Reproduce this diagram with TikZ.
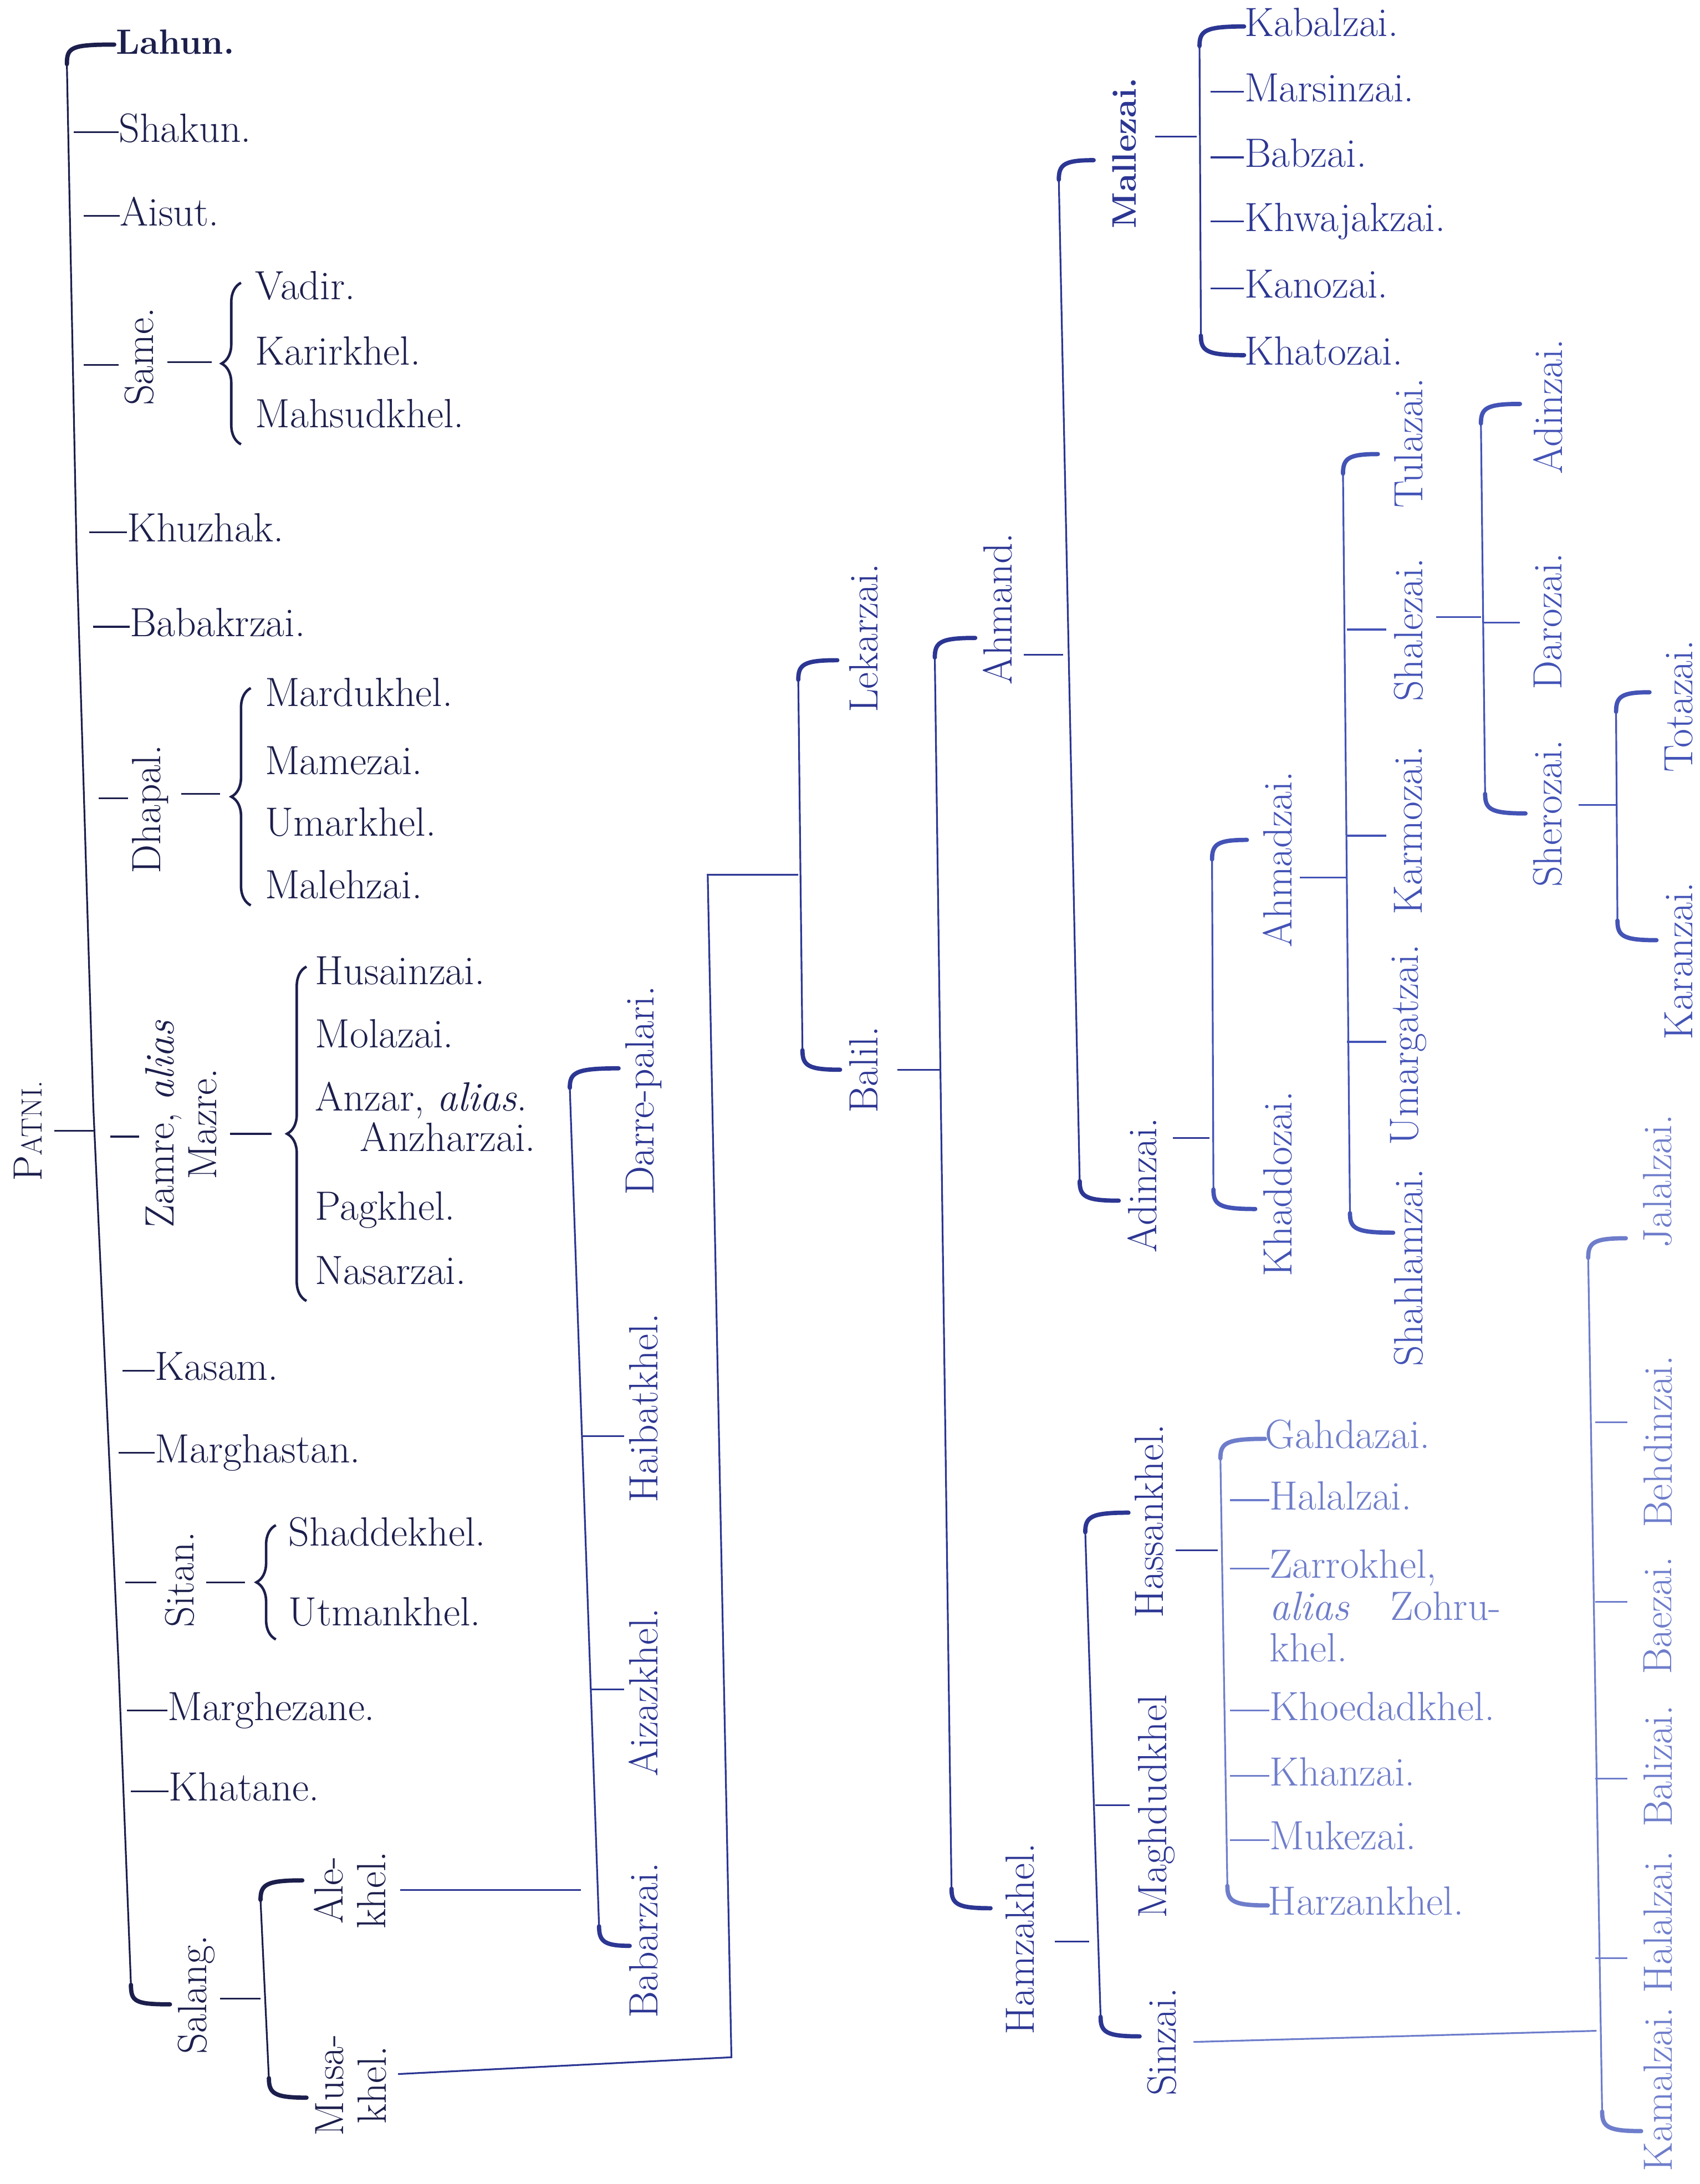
\documentclass[tikz,border=0pt]{standalone}
\usepackage{fontspec}
\usepackage{tikz}
\usetikzlibrary{decorations.pathreplacing, calc}
\definecolor{inkNavy}{HTML}{1C1F4C}
\definecolor{inkBlue}{HTML}{2C3693}
\definecolor{inkPale}{HTML}{4353B6}
\definecolor{inkFaint}{HTML}{6E7DCB}
\newcommand{\tx}{\fontsize{21}{22}\selectfont\addfontfeatures{FakeBold=0.6}}
% a name on a dash: name, dash start x, text x, y, text
\newcommand{\twig}[5]{%
  \node[leaf] (#1) at (#3,#4) {#5};
  \draw[stem] (#2,#4) -- (#1.west);}
% a bracket with curled ends: name, x top, y top, x bottom, y bottom, end x top, end x bottom
\newcommand{\bracket}[7]{%
  \coordinate (#1-t) at (#6,#3);
  \coordinate (#1-b) at (#7,#5);
  \draw[stem] (#2,#3+14) -- (#4,#5-14);
  \draw[curl] (#2,#3+14) .. controls (#2,#3+3) and (#2+4,#3) .. (#1-t);
  \draw[curl] (#4,#5-14) .. controls (#4,#5-3) and (#4+4,#5) .. (#1-b);}
% a curly brace: name of its tip, x, y top, y bottom
\newcommand{\clanbrace}[4]{%
  \draw[stem, line width=1.3pt, decorate, decoration={brace, amplitude=10pt}]
    (#2,#4) -- (#2,#3);
  \coordinate (#1) at ({#2-14},{(#3+#4)/2});}
\tikzset{
  stem/.style={line width=0.9pt},
  curl/.style={line width=2.2pt, line cap=round},
  leaf/.style={anchor=west, inner sep=0pt, font=\tx, text height=14pt, text depth=4pt},
  rot/.style={rotate=90, inner sep=0pt, font=\tx, align=center},
}
\begin{document}
\begin{tikzpicture}[x=0.02514cm, y=-0.02514cm]
  \useasboundingbox[fill=white] (0,0) rectangle (1220,1568);
  % ---- Patni and its first branches ----
  \begin{scope}[color=inkNavy]
    \node[rot] (patni) at (20,812) {P{\fontsize{15}{16}\selectfont ATNI.}};
    \draw[stem] (39,812) -- (68,812);
    \draw[stem] (48,46) -- (55,398) -- (67,795) -- (85,1193) -- (94,1425);
    \draw[curl] (48,46) .. controls (48,34) and (51,32) .. (82,32);
    \draw[curl] (94,1425) .. controls (94,1437) and (97,1439) .. (122,1439);
    \node[leaf, font=\bfseries\fontsize{18}{20}\selectfont] (lahun) at (83,32) {Lahun.};
    \twig{shakun}{53}{85}{95}{Shakun.}
    \twig{aisut}{60}{86}{155}{Aisut.}
    % Same
    \draw[stem] (60,262) -- (85,262);
    \node[rot] (same) at (100,256) {Same.};
    \draw[stem] (120,260) -- (152,260);
    \clanbrace{sametip}{173}{203}{319}
    \node[leaf] (vadir) at (183,208) {Vadir.};
    \node[leaf] (karirkhel) at (183,255) {Karirkhel.};
    \node[leaf] (mahsudkhel) at (183,300) {Mahsudkhel.};
    \twig{khuzhak}{64}{91}{382}{Khuzhak.}
    \twig{babakrzai}{67}{93}{450}{Babakrzai.}
    % Dhapal
    \draw[stem] (71,573) -- (92,573);
    \node[rot] (dhapal) at (108,581) {Dhapal.};
    \draw[stem] (130,570) -- (158,570);
    \clanbrace{dhapaltip}{180}{494}{650}
    \node[leaf] (mardukhel) at (190,500) {Mardukhel.};
    \node[leaf] (mamezai) at (190,549) {Mamezai.};
    \node[leaf] (umarkhel) at (190,593) {Umarkhel.};
    \node[leaf] (malehzai) at (190,638) {Malehzai.};
    % Zamre
    \draw[stem] (79,816) -- (100,816);
    \node[rot] (zamre) at (130,807) {Zamre, \textit{alias}\\Mazre.};
    \draw[stem] (165,814) -- (195,814);
    \clanbrace{zamretip}{220}{694}{934}
    \node[leaf] (husainzai) at (226,700) {Husainzai.};
    \node[leaf] (molazai) at (226,745) {Molazai.};
    \node[leaf, text depth=2pt] (anzar) at (226,789) {Anzar, \textit{alias}.};
    \node[leaf, text height=12pt] (anzharzai) at (258,821) {Anzharzai.};
    \node[leaf] (pagkhel) at (226,869) {Pagkhel.};
    \node[leaf] (nasarzai) at (226,915) {Nasarzai.};
    \twig{kasam}{88}{111}{984}{Kasam.}
    \twig{marghastan}{85}{111}{1043}{Marghastan.}
    % Sitan
    \draw[stem] (90,1136) -- (112,1136);
    \node[rot] (sitan) at (129,1134) {Sitan.};
    \draw[stem] (148,1136) -- (176,1136);
    \clanbrace{sitantip}{198}{1095}{1177}
    \node[leaf] (shaddekhel) at (207,1103) {Shaddekhel.};
    \node[leaf] (utmankhel) at (207,1160) {Utmankhel.};
    \twig{marghezane}{91}{120}{1228}{Marghezane.}
    \twig{khatane}{94}{121}{1286}{Khatane.}
    % Salang
    \node[rot] (salang) at (141,1432) {Salang.};
    \draw[stem] (158,1435) -- (187,1435);
    \bracket{salangbr}{187}{1350}{193}{1506}{217}{220}
    \node[rot] (alekhel) at (251,1357) {Ale-\\khel.};
    \node[rot] (musakhel) at (252,1497) {Musa-\\khel.};
  \end{scope}
  % ---- Alekhel and Musakhel lines ----
  \begin{scope}[color=inkBlue]
    \coordinate (aleend) at (417,1357);
    \coordinate (musaknee) at (525,1477);
    \coordinate (lekknee) at (508,628);
    \coordinate (lekjoin) at (573,628);
    \draw[stem] ([xshift=0.25cm]alekhel.south) -- (aleend);
    \draw[stem] ([xshift=0.2cm, yshift=0.2cm]musakhel.south) -- (musaknee) -- (lekknee) -- (lekjoin);
    \bracket{babarbr}{409}{767}{430}{1397}{444}{452}
    \draw[stem] (418,1031) -- (448,1031);
    \draw[stem] (424,1213) -- (448,1213);
    \node[rot] (darre) at (462,783) {Darre-palari.};
    \node[rot] (haibatkhel) at (462,1011) {Haibatkhel.};
    \node[rot] (aizazkhel) at (462,1215) {Aizazkhel.};
    \node[rot] (babarzai) at (462,1393) {Babarzai.};
    % Lekarzai and Balil
    \bracket{lekbr}{573}{474}{576}{768}{601}{603}
    \node[rot] (lekarzai) at (620,458) {Lekarzai.};
    \node[rot] (balil) at (620,768) {Balil.};
    \draw[stem] (644,768) -- (675,768);
    \bracket{ahmbr}{671}{458}{683}{1370}{700}{711}
    \node[rot] (ahmand) at (716,437) {Ahmand.};
    \draw[stem] (735,470) -- (763,470);
    \node[rot] (hamzakhel) at (732,1392) {Hamzakhel.};
    \draw[stem] (757,1394) -- (782,1394);
    % Mallezai and Adinzai
    \bracket{malbr}{760}{115}{775}{862}{785}{803}
    \node[rot, font=\bfseries\fontsize{17.5}{20}\selectfont] (mallezai) at (807,110) {Mallezai.};
    \draw[stem] (829,98) -- (859,98);
    \node[rot] (adinzaiA) at (820,851) {Adinzai.};
    \draw[stem] (842,817) -- (868,817);
    \bracket{kabbr}{861}{19}{862}{255}{893}{893}
    \node[leaf] (kabalzai) at (kabbr-t) {Kabalzai.};
    \twig{marsinzai}{869}{893}{66}{Marsinzai.}
    \twig{babzai}{869}{893}{113}{Babzai.}
    \twig{khwajakzai}{869}{893}{159}{Khwajakzai.}
    \twig{kanozai}{869}{893}{207}{Kanozai.}
    \node[leaf] (khatozai) at (kabbr-b) {Khatozai.};
    % Hassankhel, Maghdudkhel, Sinzai
    \bracket{hasbr}{779}{1086}{790}{1462}{810}{818}
    \node[rot] (hassankhel) at (825,1092) {Hassankhel.};
    \node[rot] (maghdudkhel) at (830,1297) {Maghdudkhel};
    \node[rot] (sinzai) at (834,1466) {Sinzai.};
    \draw[stem] (786,1296) -- (811,1296);
    \draw[stem] (844,1113) -- (874,1113);
  \end{scope}
  % ---- Adinzai branches ----
  \begin{scope}[color=inkPale]
    \bracket{ahmzbr}{870}{603}{871}{868}{895}{901}
    \node[rot] (ahmadzai) at (917,617) {Ahmadzai.};
    \node[rot] (khaddozai) at (917,850) {Khaddozai.};
    \draw[stem] (933,630) -- (966,630);
    \bracket{shahbr}{964}{326}{969}{885}{989}{1000}
    \node[rot] (tulazai) at (1011,318) {Tulazai.};
    \node[rot] (shalezai) at (1011,452) {Shalezai.};
    \node[rot] (karmozai) at (1011,596) {Karmozai.};
    \node[rot] (umargatzai) at (1011,750) {Umargatzai.};
    \node[rot] (shahlamzai) at (1011,910) {Shahlamzai.};
    \foreach \ty in {452,600,748}
      \draw[stem] (967,\ty) -- (995,\ty);
    \draw[stem] (1031,443) -- (1063,443);
    \bracket{sherbr}{1063}{290}{1066}{584}{1091}{1095}
    \node[rot] (adinzaiB) at (1111,292) {Adinzai.};
    \node[rot] (darozai) at (1111,446) {Darozai.};
    \node[rot] (sherozai) at (1111,584) {Sherozai.};
    \draw[stem] (1065,447) -- (1091,447);
    \draw[stem] (1133,578) -- (1160,578);
    \bracket{karbr}{1160}{497}{1161}{675}{1184}{1189}
    \node[rot] (totazai) at (1205,507) {Totazai.};
    \node[rot] (karanzai) at (1205,690) {Karanzai.};
  \end{scope}
  % ---- faded lower right ----
  \begin{scope}[color=inkFaint]
    \bracket{gahbr}{876}{1033}{881}{1368}{908}{910}
    \node[leaf] (gahdazai) at (gahbr-t) {Gahdazai.};
    \twig{halalzaiA}{883}{911}{1077}{Halalzai.}
    \twig{zarrokhel}{883}{911}{1126}{Zarrokhel,}
    \node[leaf] (zarroalias) at (911,1156) {\textit{alias}\quad Zohru-};
    \node[leaf] (zarrokhelB) at (911,1186) {khel.};
    \twig{khoedadkhel}{883}{911}{1228}{Khoedadkhel.}
    \twig{khanzai}{883}{911}{1275}{Khanzai.}
    \twig{mukezai}{883}{911}{1321}{Mukezai.}
    \node[leaf] (harzankhel) at (gahbr-b) {Harzankhel.};
    % Kamalzai group
    \bracket{kambr}{1140}{889}{1150}{1530}{1167}{1178}
    \coordinate (sinjoin) at (1146,1458);
    \draw[stem] ([xshift=0.3cm]sinzai.south) -- (sinjoin);
    \foreach \ty in {1021,1150,1277,1406}
      \draw[stem] (1145,\ty) -- (1168,\ty);
    \node[rot] (jalalzai) at (1190,848) {Jalalzai.};
    \node[rot] (behdinzai) at (1190,1035) {Behdinzai.};
    \node[rot] (baezai) at (1190,1160) {Baezai.};
    \node[rot] (balizai) at (1190,1268) {Balizai.};
    \node[rot] (halalzaiB) at (1190,1380) {Halalzai.};
    \node[rot] (kamalzai) at (1190,1500) {Kamalzai.};
  \end{scope}
\end{tikzpicture}
\end{document}
